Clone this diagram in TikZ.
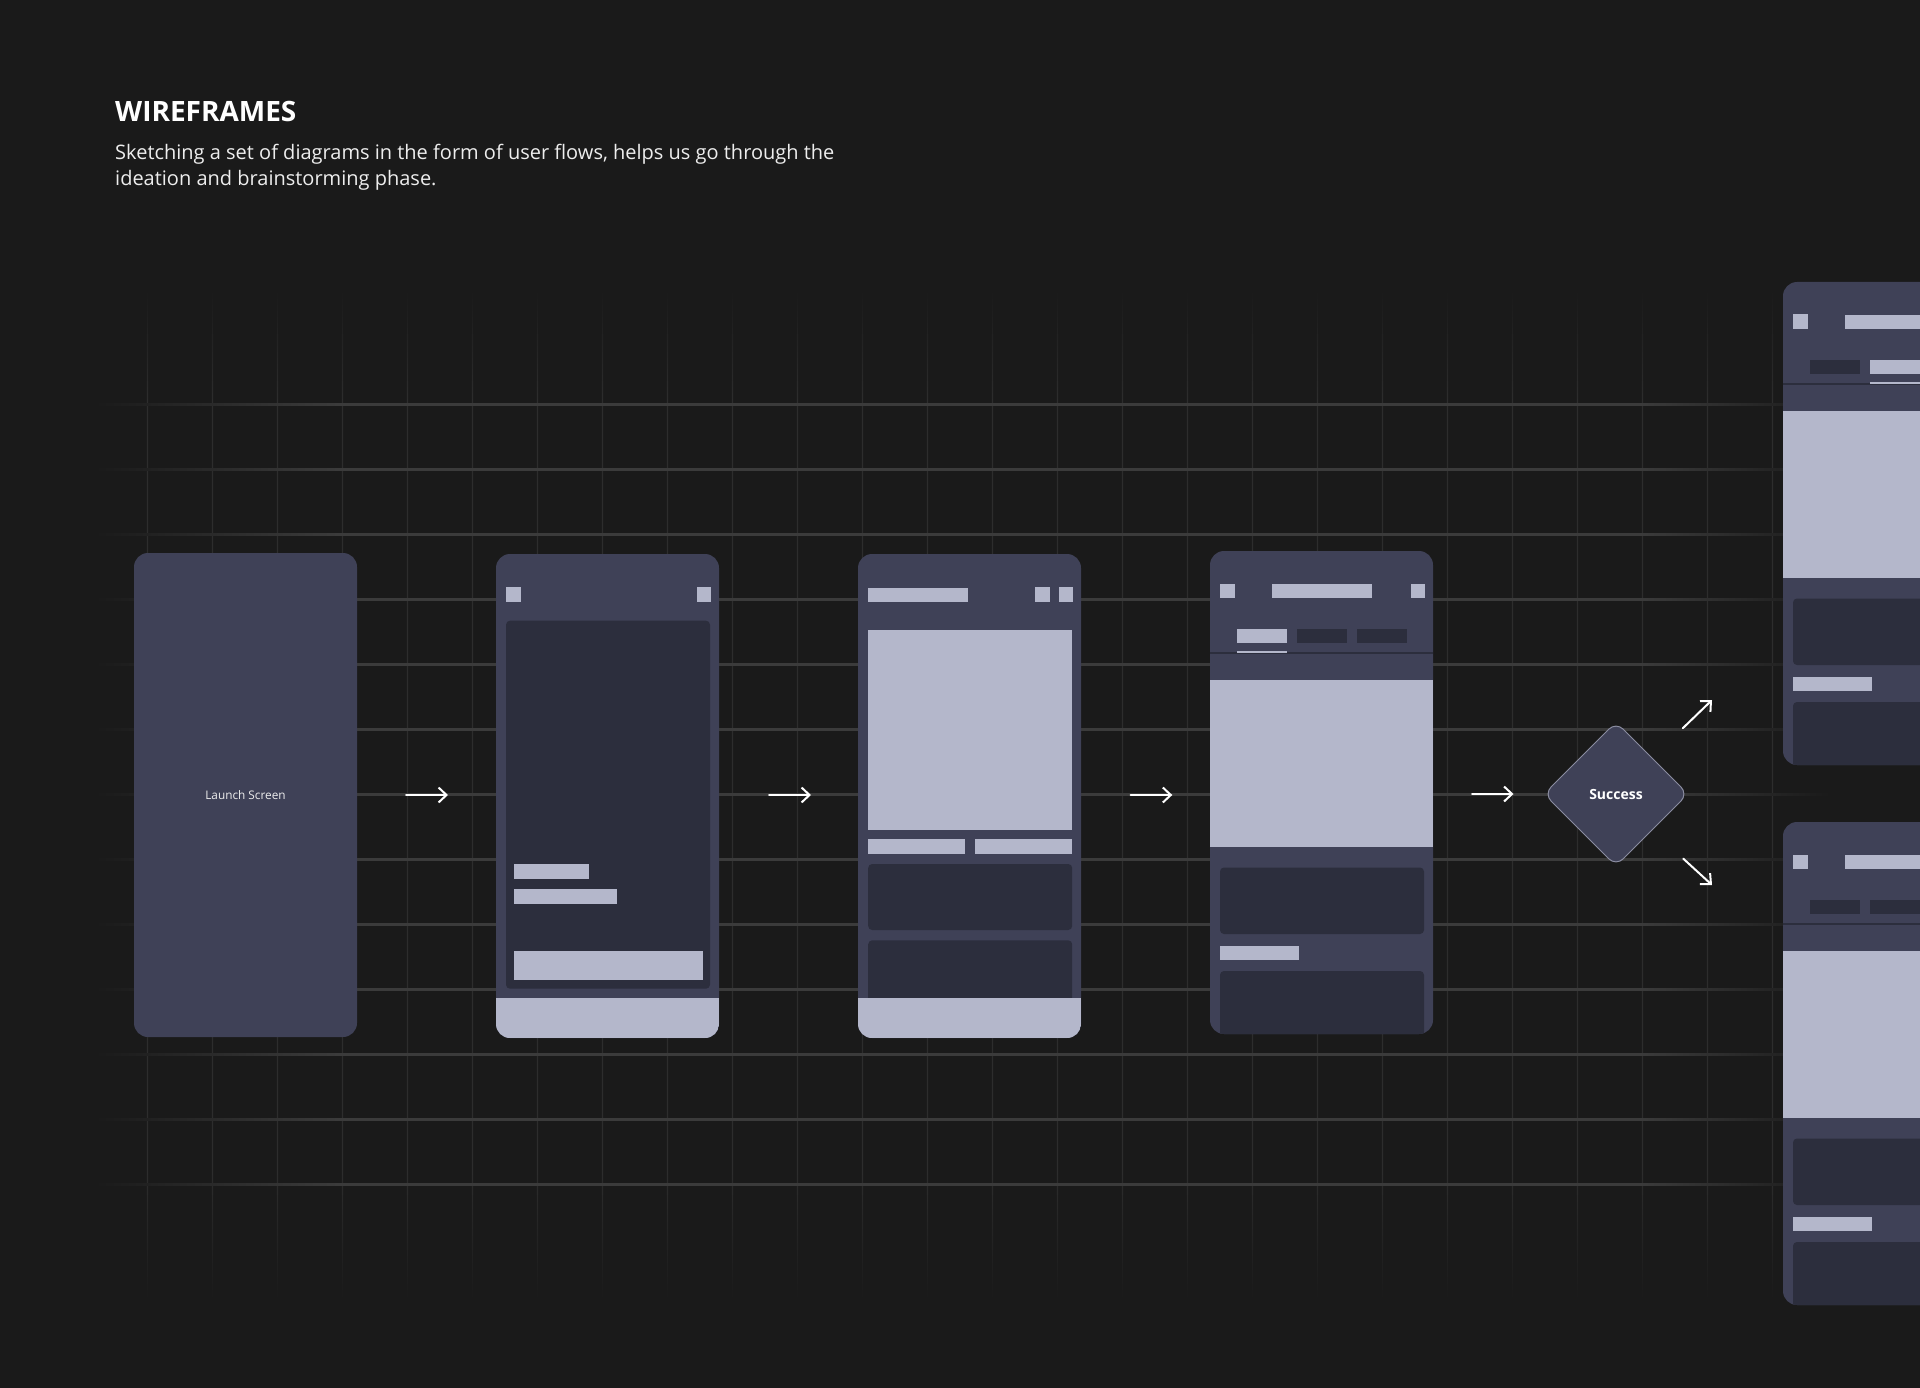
\documentclass[tikz,border=0pt]{standalone}
\usepackage{fontspec}
\setmainfont{Open Sans}
\usetikzlibrary{arrows.meta,shapes.geometric,calc}
\definecolor{bg}{HTML}{1A1A1A}
\definecolor{body}{HTML}{3F4157}
\definecolor{panel}{HTML}{2C2E3D}
\definecolor{lite}{HTML}{B4B7CB}
\definecolor{hgrid}{HTML}{3B3B3B}
\definecolor{vgrid}{HTML}{2D2D2D}
\definecolor{dborder}{HTML}{8A8CA0}
\definecolor{subtext}{HTML}{EDEDED}
\pgfdeclarehorizontalshading{hfade}{100bp}{color(0bp)=(bg); color(25bp)=(bg); color(32bp)=(hgrid); color(69.5bp)=(hgrid); color(75bp)=(bg); color(100bp)=(bg)}
\pgfdeclareverticalshading{vfade}{100bp}{color(0bp)=(bg); color(25bp)=(bg); color(31.4bp)=(vgrid); color(69.5bp)=(vgrid); color(75bp)=(bg); color(100bp)=(bg)}
\tikzset{
  phone/.style={rectangle, rounded corners=14pt, fill=body, minimum width=223pt,
    minimum height=484pt, inner sep=0pt, outer sep=0pt, anchor=north west},
  flow/.style={draw=white, line width=2pt, line cap=round,
    -{Straight Barb[length=8pt,width=15pt]}},
  card/.style={fill=panel, rounded corners=4pt},
}
\newcommand{\tabscreen}[2]{%
  \begin{scope}
    \clip[rounded corners=14pt] (#1.north west) rectangle (#1.south east);
    \begin{scope}[shift={(#1.north west)}]
      \fill[lite] (10,32.5) rectangle ++(14.5,14.5);
      \fill[lite] (62,33) rectangle (162,47.3);
      \fill[lite] (200.7,32.5) rectangle ++(14.5,14.5);
      \fill[panel] (0,101) rectangle (223,102.6);
      \foreach \i/\tx in {1/27,2/87,3/147}{%
        \ifnum\i=#2\relax
          \fill[lite] (\tx,78) rectangle ++(50,14);
          \fill[lite] (\tx,100.4) rectangle ++(50,1.5);
        \else
          \fill[panel] (\tx,78) rectangle ++(50,14);
        \fi
      }
      \fill[lite] (0,129) rectangle (223,296);
      \fill[card] (10,316.5) rectangle (214,383);
      \fill[lite] (10,395) rectangle (89,409);
      \fill[card] (10,420) rectangle (214,500);
    \end{scope}
  \end{scope}}
\begin{document}
\begin{tikzpicture}[x=1pt,y=-1pt]
\useasboundingbox (0,0) rectangle (1920,1388);
\fill[bg] (0,0) rectangle (1920,1388);
\begin{scope}
\clip (0,0) rectangle (1920,1388);
% grid
\foreach \k in {0,...,25}{
  \pgfmathsetmacro\xx{147.5+65*\k}
  \shade[shading=vfade] (\xx-0.7,290) rectangle (\xx+0.7,1300);
}
\foreach \k in {0,...,12}{
  \pgfmathsetmacro\yy{404+65*\k}
  \shade[shading=hfade] (95,\yy-1) rectangle (1830,\yy+1);
}
% title
\node[anchor=base west, inner sep=0pt, font=\fontsize{28}{32}\selectfont\bfseries, text=white] (title) at (115,121.7) {WIREFRAMES};
\node[anchor=base west, inner sep=0pt, font=\fontsize{20}{26}\selectfont, text=subtext] (sub1) at (115,159.3) {Sketching a set of diagrams in the form of user flows, helps us go through the};
\node[anchor=base west, inner sep=0pt, font=\fontsize{20}{26}\selectfont, text=subtext] (sub2) at (115,186) {ideation and brainstorming phase.};
% phone 1
\node[phone, font=\fontsize{11.8}{14}\selectfont, text=subtext] (p1) at (134,553) {Launch Screen};
% phone 2
\node[phone] (p2) at (496,554) {};
\begin{scope}
  \clip[rounded corners=14pt] (p2.north west) rectangle (p2.south east);
  \begin{scope}[shift={(p2.north west)}]
    \fill[lite] (10.3,33.3) rectangle ++(14.5,14.5);
    \fill[lite] (200.5,33.3) rectangle ++(14.5,14.5);
    \fill[card] (10,66.7) rectangle (214,434.7);
    \fill[lite] (17.8,310) rectangle (93,325);
    \fill[lite] (17.8,335) rectangle (121,349.7);
    \fill[lite] (17.8,397) rectangle (206.8,426);
    \fill[lite] (0,443.7) rectangle (223,484);
  \end{scope}
\end{scope}
% phone 3
\node[phone] (p3) at (858,554) {};
\begin{scope}
  \clip[rounded corners=14pt] (p3.north west) rectangle (p3.south east);
  \begin{scope}[shift={(p3.north west)}]
    \fill[lite] (10.2,34.3) rectangle (109.8,48.3);
    \fill[lite] (177.4,33.3) rectangle ++(14.5,14.5);
    \fill[lite] (200.8,33.3) rectangle ++(14.5,14.5);
    \fill[lite] (10.2,76.3) rectangle (214.2,275.7);
    \fill[lite] (10.2,285.3) rectangle (107,300);
    \fill[lite] (117,285.3) rectangle (214.2,300);
    \fill[card] (10.2,310) rectangle (214.2,376);
    \fill[card] (10.2,386.3) rectangle (214.2,470);
    \fill[lite] (0,443.7) rectangle (223,484);
  \end{scope}
\end{scope}
% phone 4, 5, 6
\node[phone, minimum height=483pt] (p4) at (1210,551) {};
\tabscreen{p4}{1}
\node[phone, minimum height=483pt] (p5) at (1783,282) {};
\tabscreen{p5}{2}
\node[phone, minimum height=483pt] (p6) at (1783,822) {};
\tabscreen{p6}{3}
% decision
\node[diamond, aspect=1, minimum width=144pt, minimum height=144pt, inner sep=0pt,
  outer sep=0pt, fill=body, draw=dborder, line width=1pt, rounded corners=10pt,
  font=\fontsize{14}{17}\selectfont\bfseries, text=white] (success) at (1616,794) {Success};
% connectors
\coordinate (e5) at (1712,700);
\coordinate (e6) at (1712,885);
\draw[flow, shorten <=49pt, shorten >=48pt] (p1.east) -- (p1.east -| p2.west);
\draw[flow, shorten <=50pt, shorten >=47pt] (p2.east |- p1.east) -- (p1.east -| p3.west);
\draw[flow, shorten <=49.7pt, shorten >=37.7pt] (p3.east |- p1.east) -- (p1.east -| p4.west);
\draw[flow, shorten <=39pt, shorten >=30.5pt] (p4.east |- success.west) -- (success.west);
\draw[flow, shorten <=43pt] (success.north east) -- (e5);
\draw[flow, shorten <=42.4pt] (success.south east) -- (e6);
\end{scope}
\end{tikzpicture}
\end{document}
